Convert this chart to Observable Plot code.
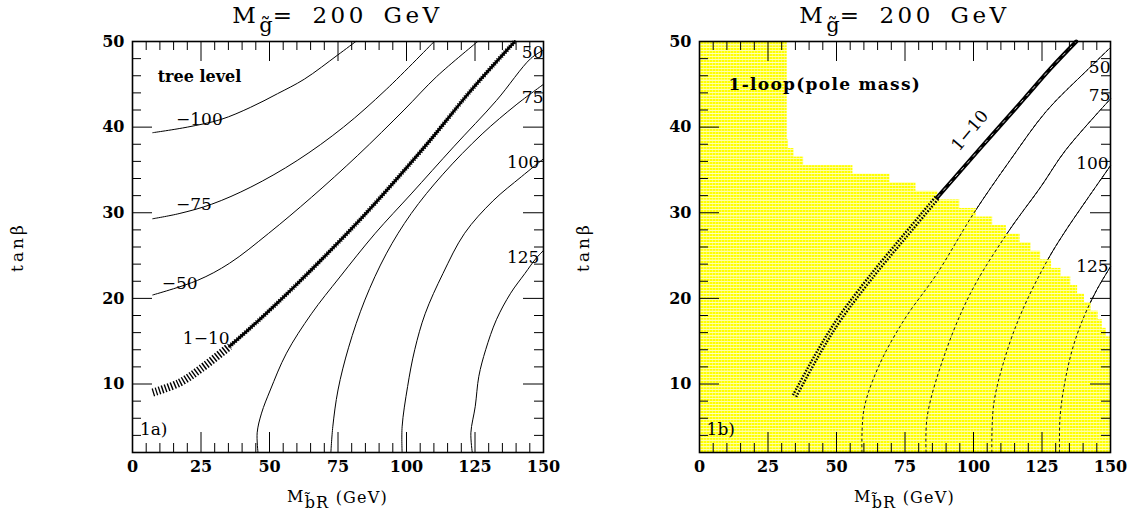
<!DOCTYPE html>
<html><head><meta charset="utf-8">
<script src="https://cdn.jsdelivr.net/npm/d3@7"></script>
<script src="https://cdn.jsdelivr.net/npm/@observablehq/plot@0.6"></script>
<style>
html,body{margin:0;padding:0;background:#fff;}
#wrap{display:flex;width:1133px;height:514px;overflow:hidden;}
svg{display:block;}
</style></head><body><div id="wrap"></div>
<script>
// ---------- ticks ----------
const xTicksMajor = [0, 25, 50, 75, 100, 125, 150];
const xTicksMinor = [5, 10, 15, 20, 30, 35, 40, 45, 55, 60, 65, 70, 80, 85, 90, 95, 105, 110, 115, 120, 130, 135, 140, 145];
const yTicksMajor = [10, 20, 30, 40, 50];
const yTicksMinor = [4, 6, 8, 12, 14, 16, 18, 22, 24, 26, 28, 32, 34, 36, 38, 42, 44, 46, 48];

// ---------- panel 1a: tree level contours ----------
const treeM100X = [7.4, 20, 32.3, 43, 52.9, 62.7, 74.8, 81.5];
const treeM100Y = [39.35, 40.0, 40.9, 42.3, 43.9, 45.6, 48.4, 50];
const treeM75X = [7.4, 17, 28.9, 43.2, 60.1, 77, 92.6, 110.1];
const treeM75Y = [29.3, 29.9, 31.0, 33.0, 36.1, 40.0, 44.4, 50];
const treeM50X = [7.4, 23.7, 35.4, 49.7, 65.3, 82.2, 99.1, 111, 126];
const treeM50Y = [20.4, 22.1, 24.1, 27.6, 31.8, 36.7, 42.0, 45.9, 50];
const tree1X = [7.4, 17.2, 25, 35.4, 43.2, 51, 60.1, 69.2, 82.2, 95.2, 108.2, 121.2, 127.1, 139.5];
const tree1Y = [9.0, 10.15, 11.8, 14.4, 16.6, 18.9, 21.7, 24.6, 28.9, 33.5, 38.3, 43.4, 45.6, 50];
const tree50X = [45.8, 45.5, 47.1, 50.3, 56.2, 65.3, 75.7, 88.6, 101.7, 117.2, 132.8, 145.3, 150];
const tree50Y = [2, 4.3, 6.6, 9.3, 13.6, 18.2, 22.5, 27.6, 32.2, 37.7, 43.1, 48, 49.0];
const tree75X = [72.4, 73.1, 75, 78.9, 84.8, 92.6, 101.7, 113.3, 127.6, 140, 150];
const tree75Y = [2, 5.0, 9.3, 14.3, 19.8, 25.2, 29.9, 34.5, 39.2, 42.6, 45];
const tree100X = [98.4, 98.4, 100.4, 103, 106.8, 113.3, 121.2, 131.6, 141.9, 150];
const tree100Y = [2, 5, 9.7, 14, 18.2, 22.9, 27.6, 31.4, 34.2, 36.3];
const tree125X = [124, 123.5, 125.1, 126.4, 128.9, 132.8, 138, 143.2, 147.1, 150];
const tree125Y = [2, 4.3, 7.4, 10.9, 14, 17.5, 20.6, 22.9, 24.6, 25.6];

const treeLabelText = ["\u2212100", "\u221275", "\u221250", "1\u221210", "50", "75", "100", "125"];
const treeLabelX = [24.4, 22.4, 17.2, 26.9, 150, 150, 148.5, 148.5];
const treeLabelY = [40.9, 30.9, 21.7, 15.3, 48.7, 43.5, 35.9, 24.8];

// ---------- panel 1b: 1-loop (pole mass) ----------
const loop50X = [59.3, 60, 65.3, 74.7, 86.7, 100, 113.3, 126.7, 141.3, 150];
const loop50Y = [2, 7, 12, 17.5, 22.9, 29.9, 36.1, 41.9, 46.6, 49.3];
const loop75X = [82.7, 83.1, 89.2, 98.9, 112.3, 124.5, 133.6, 150];
const loop75Y = [2, 6.2, 13.2, 20.6, 27.6, 33, 37.3, 43.3];
const loop100X = [106.7, 107.4, 112.3, 118.4, 126.9, 133, 141.5, 150];
const loop100Y = [2, 7.7, 13.9, 19, 24.4, 27.6, 31.6, 35.5];
const loop125X = [131.4, 131.6, 133.5, 136.5, 140.5, 145, 150];
const loop125Y = [2, 6.2, 10.5, 14.5, 18, 21, 23.7];
const loop1X = [34.7, 44.2, 51.5, 63.6, 75.8, 86.8, 95.3, 103.2, 109.3, 118.7, 128, 137.5];
const loop1Y = [8.6, 14.1, 17.8, 22.9, 27.6, 31.8, 34.9, 37.8, 40.0, 43.4, 46.8, 50];

const loopLabelText = ["50", "75", "100", "125"];
const loopLabelX = [150, 150, 149.3, 149.3];
const loopLabelY = [47, 43.7, 35.7, 23.7];

// yellow region: one row per integer tan(beta), extending from 0 to xmax
const yellowRowY = [2,3,4,5,6,7,8,9,10,11,12,13,14,15,16,17,18,19,20,21,22,23,24,25,26,27,28,29,30,31,32,33,34,35,36,37,38,39,40,41,42,43,44,45,46,47,48,49,50];
const yellowRowXmax = [150,150,150,150,150,150,150,150,150,150,150,150,150,150,148.5,147,145.5,143,140.5,138,135.5,132,128.5,124.5,121,117,112,107,101,95,87,79,69.5,56,38,34.5,32.5,32,32,32,32,32,32,32,32,32,32,32,32];

// ---------- helpers ----------
const pts = (xs, ys) => xs.map((x, i) => ({x, y: ys[i]}));
const labels = (t, xs, ys) => t.map((s, i) => ({text: s, x: xs[i], y: ys[i]}));
const H = 514, MT = 41, MB = 62, INNER = 411;
const FONT = "DejaVu Serif";

function frameMarks() {
  return [
    Plot.frame({stroke: "black", strokeWidth: 1.6}),
    Plot.tickX(xTicksMajor, {x: d => d, insetTop: INNER - 20, stroke: "black"}),
    Plot.tickX(xTicksMinor, {x: d => d, insetTop: INNER - 9, stroke: "black"}),
    Plot.tickX(xTicksMajor, {x: d => d, insetBottom: INNER - 20, stroke: "black"}),
    Plot.tickX(xTicksMinor, {x: d => d, insetBottom: INNER - 9, stroke: "black"}),
    Plot.tickY(yTicksMajor, {y: d => d, insetRight: INNER - 20, stroke: "black"}),
    Plot.tickY(yTicksMinor, {y: d => d, insetRight: INNER - 9, stroke: "black"}),
    Plot.tickY(yTicksMajor, {y: d => d, insetLeft: INNER - 20, stroke: "black"}),
    Plot.tickY(yTicksMinor, {y: d => d, insetLeft: INNER - 9, stroke: "black"}),
    Plot.text(xTicksMajor, {x: d => d, frameAnchor: "bottom", dy: 19, text: d => String(d), fontSize: 16, fontWeight: "bold", fill: "black"}),
    Plot.text(yTicksMajor, {y: d => d, frameAnchor: "left", dx: -8, textAnchor: "end", text: d => String(d), fontSize: 16, fontWeight: "bold", fill: "black"})
  ];
}

function decorate(svg, width, marginLeft) {
  const s = d3.select(svg);
  const cx = marginLeft + INNER / 2;
  const t = s.append("text").attr("x", cx).attr("y", 23).attr("text-anchor", "middle")
    .attr("font-family", FONT).attr("font-size", 23).attr("letter-spacing", 3.5).attr("word-spacing", 6).attr("fill", "black");
  t.append("tspan").text("M");
  t.append("tspan").attr("dy", 9).attr("font-size", 21).attr("letter-spacing", 0).text("g\u0303");
  t.append("tspan").attr("dy", -9).text("= 200 GeV");
  const xl = s.append("text").attr("x", cx).attr("y", 502).attr("text-anchor", "middle")
    .attr("font-family", FONT).attr("font-size", 16).attr("letter-spacing", 1.2).attr("fill", "black");
  xl.append("tspan").text("M");
  xl.append("tspan").attr("dy", 6).attr("font-size", 16).text("b\u0303R");
  xl.append("tspan").attr("dy", -5).text(" (GeV)");
  s.append("text").attr("transform", "translate(18,247) rotate(-90)").attr("text-anchor", "middle")
    .attr("dominant-baseline", "middle").attr("font-family", FONT).attr("font-size", 17)
    .attr("letter-spacing", 3).attr("fill", "black").text("tan\u03b2");
}

// ---------- panel 1a ----------
const tree1 = pts(tree1X, tree1Y);
const treeThin = [pts(treeM100X, treeM100Y), pts(treeM75X, treeM75Y), pts(treeM50X, treeM50Y),
  pts(tree50X, tree50Y), pts(tree75X, tree75Y), pts(tree100X, tree100Y), pts(tree125X, tree125Y)];

const W1 = 566, ML1 = 132;
const plot1 = Plot.plot({
  width: W1, height: H, marginTop: MT, marginBottom: MB, marginLeft: ML1, marginRight: 23,
  x: {domain: [0, 150], axis: null}, y: {domain: [2, 50], axis: null},
  style: {fontFamily: FONT, fontSize: "16px", background: "white", color: "black"},
  marks: [
    ...treeThin.map(d => Plot.line(d, {x: "x", y: "y", stroke: "black", strokeWidth: 1, curve: "catmull-rom"})),
    Plot.line(tree1.filter(p => p.x <= 36), {x: "x", y: "y", stroke: "black", strokeWidth: 8, strokeDasharray: "1.4,1.8", strokeLinecap: "butt", curve: "catmull-rom"}),
    Plot.line(tree1.filter(p => p.x >= 35.4), {x: "x", y: "y", stroke: "black", strokeWidth: 2.6, curve: "catmull-rom"}),
    Plot.line(tree1.filter(p => p.x >= 35.4), {x: "x", y: "y", stroke: "black", strokeWidth: 4.5, strokeDasharray: "1,1.6", strokeLinecap: "butt", curve: "catmull-rom"}),
    Plot.text(labels(treeLabelText, treeLabelX, treeLabelY).slice(0, 4), {x: "x", y: "y", text: "text", fontSize: 17, fill: "black"}),
    Plot.text(labels(treeLabelText, treeLabelX, treeLabelY).slice(4), {x: "x", y: "y", text: "text", fontSize: 17, textAnchor: "end", fill: "black"}),
    Plot.text(["tree level"], {x: 9.2, y: 45.9, text: d => d, textAnchor: "start", fontSize: 16, fontWeight: "bold", fill: "black"}),
    Plot.text(["1a)"], {x: 2.7, y: 4.65, text: d => d, textAnchor: "start", fontSize: 17, fill: "black"}),
    ...frameMarks()
  ]
});
decorate(plot1, W1, ML1);

// ---------- panel 1b ----------
const loop1 = pts(loop1X, loop1Y);
const loopThin = [pts(loop50X, loop50Y), pts(loop75X, loop75Y), pts(loop100X, loop100Y), pts(loop125X, loop125Y)];
const yellowRows = yellowRowY.map((y, i) => ({y1: Math.max(2, y - 0.5), y2: Math.min(50, y + 0.5), x2: yellowRowXmax[i]}));

const W2 = 567, ML2 = 133;
const defs = () => {
  const d = d3.create("svg:defs");
  const p = d.append("pattern").attr("id", "yhatch").attr("width", 3).attr("height", 3).attr("patternUnits", "userSpaceOnUse");
  p.append("rect").attr("width", 3).attr("height", 3).attr("fill", "#ffffa8");
  p.append("rect").attr("width", 2).attr("height", 2).attr("fill", "#ffff00");
  p.append("rect").attr("x", 2).attr("width", 1).attr("height", 2).attr("fill", "#ffff50");
  return d.node();
};
const plot2 = Plot.plot({
  width: W2, height: H, marginTop: MT, marginBottom: MB, marginLeft: ML2, marginRight: 23,
  x: {domain: [0, 150], axis: null}, y: {domain: [2, 50], axis: null},
  style: {fontFamily: FONT, fontSize: "16px", background: "white", color: "black"},
  marks: [
    defs,
    ...loopThin.map(d => Plot.line(d, {x: "x", y: "y", stroke: "black", strokeWidth: 1, curve: "catmull-rom"})),
    Plot.rect(yellowRows, {x1: 0, x2: "x2", y1: "y1", y2: "y2", fill: "url(#yhatch)"}),
    ...loopThin.map(d => Plot.line(d, {x: "x", y: "y", stroke: "black", strokeWidth: 0.9, strokeDasharray: "3,2.5", strokeLinecap: "butt", curve: "catmull-rom"})),
    Plot.line(loop1.filter(p => p.y <= 32), {x: "x", y: "y", stroke: "black", strokeWidth: 6, strokeDasharray: "1.5,1.5", strokeLinecap: "butt", curve: "catmull-rom"}),
    Plot.line(loop1.filter(p => p.y <= 32), {x: "x", y: "y", stroke: "#ffff60", strokeWidth: 1.2, curve: "catmull-rom"}),
    Plot.line(loop1.filter(p => p.y >= 31.8), {x: "x", y: "y", stroke: "black", strokeWidth: 4, curve: "catmull-rom"}),
    Plot.line(loop1.filter(p => p.y >= 31.8), {x: "x", y: "y", stroke: "white", strokeWidth: 0.8, strokeDasharray: "4,5", strokeLinecap: "butt", curve: "catmull-rom"}),
    Plot.text(labels(loopLabelText, loopLabelX, loopLabelY), {x: "x", y: "y", text: "text", fontSize: 17, textAnchor: "end", fill: "black"}),
    Plot.text(["1\u221210"], {x: 98.7, y: 39.6, text: d => d, rotate: -50, fontSize: 17, fill: "black"}),
    Plot.text(["1-loop(pole mass)"], {x: 10.6, y: 44.95, text: d => d, textAnchor: "start", fontSize: 17, fontWeight: "bold", fill: "black"}),
    Plot.text(["1b)"], {x: 2.6, y: 4.65, text: d => d, textAnchor: "start", fontSize: 17, fill: "black"}),
    ...frameMarks()
  ]
});
decorate(plot2, W2, ML2);
// widen the bold annotation, as in the original typesetting
d3.select(plot2).selectAll("text").filter(function () { return this.textContent === "1-loop(pole mass)"; })
  .attr("letter-spacing", 1.3);

document.getElementById("wrap").append(plot1, plot2);
</script>
</body></html>
